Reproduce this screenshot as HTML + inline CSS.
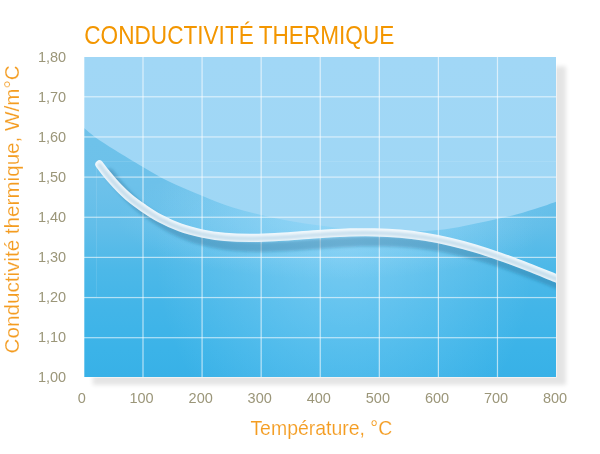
<!DOCTYPE html>
<html lang="fr"><head><meta charset="utf-8"><title>Conductivité thermique</title>
<style>
html,body{margin:0;padding:0;background:#fff;}
body{width:600px;height:454px;overflow:hidden;font-family:"Liberation Sans",sans-serif;}
svg{display:block}
.t0{font-family:"Liberation Sans",sans-serif;}
.t1{font-family:"Liberation Sans",sans-serif;}
.t{font-family:"Liberation Sans",sans-serif;stroke:#fff;stroke-width:0.15px;paint-order:fill stroke;}
</style></head><body>
<svg width="600" height="454" viewBox="0 0 600 454">
<defs>
<linearGradient id="bg" x1="0" y1="57" x2="0" y2="377" gradientUnits="userSpaceOnUse">
<stop offset="0" stop-color="#74c4eb"/><stop offset="0.26" stop-color="#6ec2ea"/><stop offset="0.4" stop-color="#6dc1ea"/><stop offset="0.525" stop-color="#62bee9"/><stop offset="0.666" stop-color="#4cb8e8"/><stop offset="0.79" stop-color="#42b5e8"/><stop offset="0.916" stop-color="#3bb3e8"/><stop offset="1" stop-color="#38b1e7"/>
</linearGradient>
<radialGradient id="hl" cx="345" cy="245" r="190" gradientUnits="userSpaceOnUse" gradientTransform="translate(345 245) scale(1 1.21) translate(-345 -245)">
<stop offset="0" stop-color="#b0e4ff" stop-opacity="0.43"/><stop offset="0.5" stop-color="#b0e4ff" stop-opacity="0.215"/><stop offset="1" stop-color="#b0e4ff" stop-opacity="0"/>
</radialGradient>
<radialGradient id="hl2" cx="335" cy="218" r="220" gradientUnits="userSpaceOnUse" gradientTransform="translate(335 218) scale(1 0.28) translate(-335 -218)">
<stop offset="0" stop-color="#b0e4ff" stop-opacity="0.38"/><stop offset="0.5" stop-color="#b0e4ff" stop-opacity="0.2"/><stop offset="1" stop-color="#b0e4ff" stop-opacity="0"/>
</radialGradient>
<linearGradient id="gl" x1="0" y1="57" x2="0" y2="232" gradientUnits="userSpaceOnUse">
<stop offset="0" stop-color="#a1d7f6"/><stop offset="1" stop-color="#9fd7f5"/>
</linearGradient>
<filter id="sh" x="-10%" y="-10%" width="130%" height="130%"><feGaussianBlur stdDeviation="2.2"/></filter>
<filter id="cs" x="-10%" y="-30%" width="120%" height="160%"><feGaussianBlur stdDeviation="1.7"/></filter>
<filter id="ci" x="-10%" y="-30%" width="120%" height="160%"><feGaussianBlur stdDeviation="1.1"/></filter>
<clipPath id="cp"><rect x="84" y="57" width="472" height="320"/></clipPath>
</defs>
<rect width="600" height="454" fill="#fff"/>
<rect x="92.7" y="66.3" width="473.3" height="318.7" fill="#000" opacity="0.1" filter="url(#sh)"/>
<rect x="83.8" y="56.8" width="472.7" height="320.7" fill="#fff"/>
<rect x="84" y="57" width="472" height="320" fill="url(#bg)"/>
<rect x="84" y="57" width="472" height="320" fill="url(#hl)"/>
<rect x="84" y="57" width="472" height="320" fill="url(#hl2)"/>
<path d="M84.0,128.1 C85.9,129.6 90.1,133.5 95.3,137.2 C100.5,140.9 107.3,145.3 115.3,150.3 C123.2,155.3 133.9,161.7 143.0,167.0 C152.1,172.3 160.2,177.2 170.0,182.0 C179.8,186.8 191.7,191.5 202.0,195.7 C212.3,199.9 222.2,204.1 232.0,207.3 C241.8,210.5 251.3,212.7 261.0,215.0 C270.7,217.3 280.2,219.2 290.0,221.0 C299.8,222.8 310.0,224.2 320.0,225.5 C330.0,226.8 340.0,228.1 350.0,229.0 C360.0,229.9 370.0,230.6 380.0,231.0 C390.0,231.4 400.3,231.7 410.0,231.5 C419.7,231.3 430.0,230.7 438.0,230.0 C446.0,229.3 451.5,228.4 458.0,227.3 C464.5,226.2 470.5,224.7 477.0,223.3 C483.5,221.9 490.3,220.5 497.0,219.0 C503.7,217.5 509.8,216.2 517.0,214.3 C524.2,212.4 533.5,209.4 540.0,207.3 C546.5,205.2 553.3,202.6 556.0,201.7 L556,57 L84,57 Z" fill="url(#gl)"/>
<g fill="#fff" opacity="0.62"><rect x="142.40" y="57" width="1.2" height="320"/><rect x="201.48" y="57" width="1.2" height="320"/><rect x="260.56" y="57" width="1.2" height="320"/><rect x="319.64" y="57" width="1.2" height="320"/><rect x="378.72" y="57" width="1.2" height="320"/><rect x="437.80" y="57" width="1.2" height="320"/><rect x="496.88" y="57" width="1.2" height="320"/></g><g fill="#fff" opacity="0.6"><rect x="84" y="96.20" width="472" height="1.2"/><rect x="84" y="136.35" width="472" height="1.2"/><rect x="84" y="176.50" width="472" height="1.2"/><rect x="84" y="216.65" width="472" height="1.2"/><rect x="84" y="256.80" width="472" height="1.2"/><rect x="84" y="296.95" width="472" height="1.2"/><rect x="84" y="337.10" width="472" height="1.2"/></g>
<rect x="84" y="57" width="1" height="320" fill="#fff" opacity="0.3"/>
<path d="M96.5,297 V163 M96.5,161.5 H556 M84,297.3 H96.5" fill="none" stroke="#fff" stroke-opacity="0.1" stroke-width="1"/>
<g clip-path="url(#cp)">
<path d="M99.4,164.2 C100.5,165.6 103.7,170.1 106.0,172.9 C108.3,175.7 110.7,178.5 113.0,181.1 C115.3,183.7 117.2,185.8 120.0,188.6 C122.8,191.4 126.2,194.8 130.0,197.9 C133.8,201.1 138.0,204.1 143.0,207.5 C148.0,210.9 153.8,214.9 160.0,218.2 C166.2,221.5 173.0,224.7 180.0,227.2 C187.0,229.7 194.5,231.6 202.0,233.2 C209.5,234.8 217.0,235.9 225.0,236.7 C233.0,237.4 241.7,237.7 250.0,237.7 C258.3,237.7 266.7,237.3 275.0,236.9 C283.3,236.5 291.7,235.8 300.0,235.2 C308.3,234.6 316.7,233.9 325.0,233.4 C333.3,232.9 341.7,232.4 350.0,232.2 C358.3,232.0 366.7,231.9 375.0,232.1 C383.3,232.3 391.7,232.7 400.0,233.4 C408.3,234.1 416.7,235.2 425.0,236.5 C433.3,237.8 441.7,239.5 450.0,241.4 C458.3,243.3 466.7,245.6 475.0,248.1 C483.3,250.6 491.2,253.2 500.0,256.3 C508.8,259.4 518.7,263.2 528.0,266.8 C537.3,270.4 548.2,274.9 556.0,278.0 C563.8,281.1 571.8,284.3 575.0,285.6" fill="none" stroke="#1a5a80" stroke-opacity="0.3" stroke-width="10" stroke-linecap="round" transform="translate(10,9.4)" filter="url(#cs)"/>
<g opacity="0.95">
<path d="M99.4,164.2 C100.5,165.6 103.7,170.1 106.0,172.9 C108.3,175.7 110.7,178.5 113.0,181.1 C115.3,183.7 117.2,185.8 120.0,188.6 C122.8,191.4 126.2,194.8 130.0,197.9 C133.8,201.1 138.0,204.1 143.0,207.5 C148.0,210.9 153.8,214.9 160.0,218.2 C166.2,221.5 173.0,224.7 180.0,227.2 C187.0,229.7 194.5,231.6 202.0,233.2 C209.5,234.8 217.0,235.9 225.0,236.7 C233.0,237.4 241.7,237.7 250.0,237.7 C258.3,237.7 266.7,237.3 275.0,236.9 C283.3,236.5 291.7,235.8 300.0,235.2 C308.3,234.6 316.7,233.9 325.0,233.4 C333.3,232.9 341.7,232.4 350.0,232.2 C358.3,232.0 366.7,231.9 375.0,232.1 C383.3,232.3 391.7,232.7 400.0,233.4 C408.3,234.1 416.7,235.2 425.0,236.5 C433.3,237.8 441.7,239.5 450.0,241.4 C458.3,243.3 466.7,245.6 475.0,248.1 C483.3,250.6 491.2,253.2 500.0,256.3 C508.8,259.4 518.7,263.2 528.0,266.8 C537.3,270.4 548.2,274.9 556.0,278.0 C563.8,281.1 571.8,284.3 575.0,285.6" fill="none" stroke="#f6fafd" stroke-width="8.2" stroke-linecap="round" transform="translate(0,0.25)"/>
<path d="M99.4,164.2 C100.5,165.6 103.7,170.1 106.0,172.9 C108.3,175.7 110.7,178.5 113.0,181.1 C115.3,183.7 117.2,185.8 120.0,188.6 C122.8,191.4 126.2,194.8 130.0,197.9 C133.8,201.1 138.0,204.1 143.0,207.5 C148.0,210.9 153.8,214.9 160.0,218.2 C166.2,221.5 173.0,224.7 180.0,227.2 C187.0,229.7 194.5,231.6 202.0,233.2 C209.5,234.8 217.0,235.9 225.0,236.7 C233.0,237.4 241.7,237.7 250.0,237.7 C258.3,237.7 266.7,237.3 275.0,236.9 C283.3,236.5 291.7,235.8 300.0,235.2 C308.3,234.6 316.7,233.9 325.0,233.4 C333.3,232.9 341.7,232.4 350.0,232.2 C358.3,232.0 366.7,231.9 375.0,232.1 C383.3,232.3 391.7,232.7 400.0,233.4 C408.3,234.1 416.7,235.2 425.0,236.5 C433.3,237.8 441.7,239.5 450.0,241.4 C458.3,243.3 466.7,245.6 475.0,248.1 C483.3,250.6 491.2,253.2 500.0,256.3 C508.8,259.4 518.7,263.2 528.0,266.8 C537.3,270.4 548.2,274.9 556.0,278.0 C563.8,281.1 571.8,284.3 575.0,285.6" fill="none" stroke="#d0e3ef" stroke-width="4.2" stroke-linecap="round" transform="translate(0.2,0.9)" filter="url(#ci)"/>
</g>
</g>
<text class="t0" x="84.3" y="44.3" font-size="25.6" fill="#f39600" textLength="310" lengthAdjust="spacingAndGlyphs" word-spacing="-1">CONDUCTIVITÉ THERMIQUE</text>
<g class="t1" font-size="14.5" fill="#9b9679"><text x="66.2" y="61.8" text-anchor="end">1,80</text><text x="66.2" y="101.8" text-anchor="end">1,70</text><text x="66.2" y="141.9" text-anchor="end">1,60</text><text x="66.2" y="181.9" text-anchor="end">1,50</text><text x="66.2" y="222.0" text-anchor="end">1,40</text><text x="66.2" y="262.1" text-anchor="end">1,30</text><text x="66.2" y="302.1" text-anchor="end">1,20</text><text x="66.2" y="342.1" text-anchor="end">1,10</text><text x="66.2" y="382.2" text-anchor="end">1,00</text><text x="81.7" y="403" text-anchor="middle">0</text><text x="141.6" y="403" text-anchor="middle">100</text><text x="200.7" y="403" text-anchor="middle">200</text><text x="259.7" y="403" text-anchor="middle">300</text><text x="318.8" y="403" text-anchor="middle">400</text><text x="377.9" y="403" text-anchor="middle">500</text><text x="437.0" y="403" text-anchor="middle">600</text><text x="496.1" y="403" text-anchor="middle">700</text><text x="555.1" y="403" text-anchor="middle">800</text></g>
<text class="t" x="250.4" y="435.4" font-size="20.4" fill="#f49c20" textLength="141.8" lengthAdjust="spacingAndGlyphs">Température, °C</text>
<text class="t" transform="translate(19.4,353.4) rotate(-90)" font-size="20.4" fill="#f49c20" textLength="288" lengthAdjust="spacingAndGlyphs">Conductivité thermique, W/m°C</text>
</svg>
</body></html>
